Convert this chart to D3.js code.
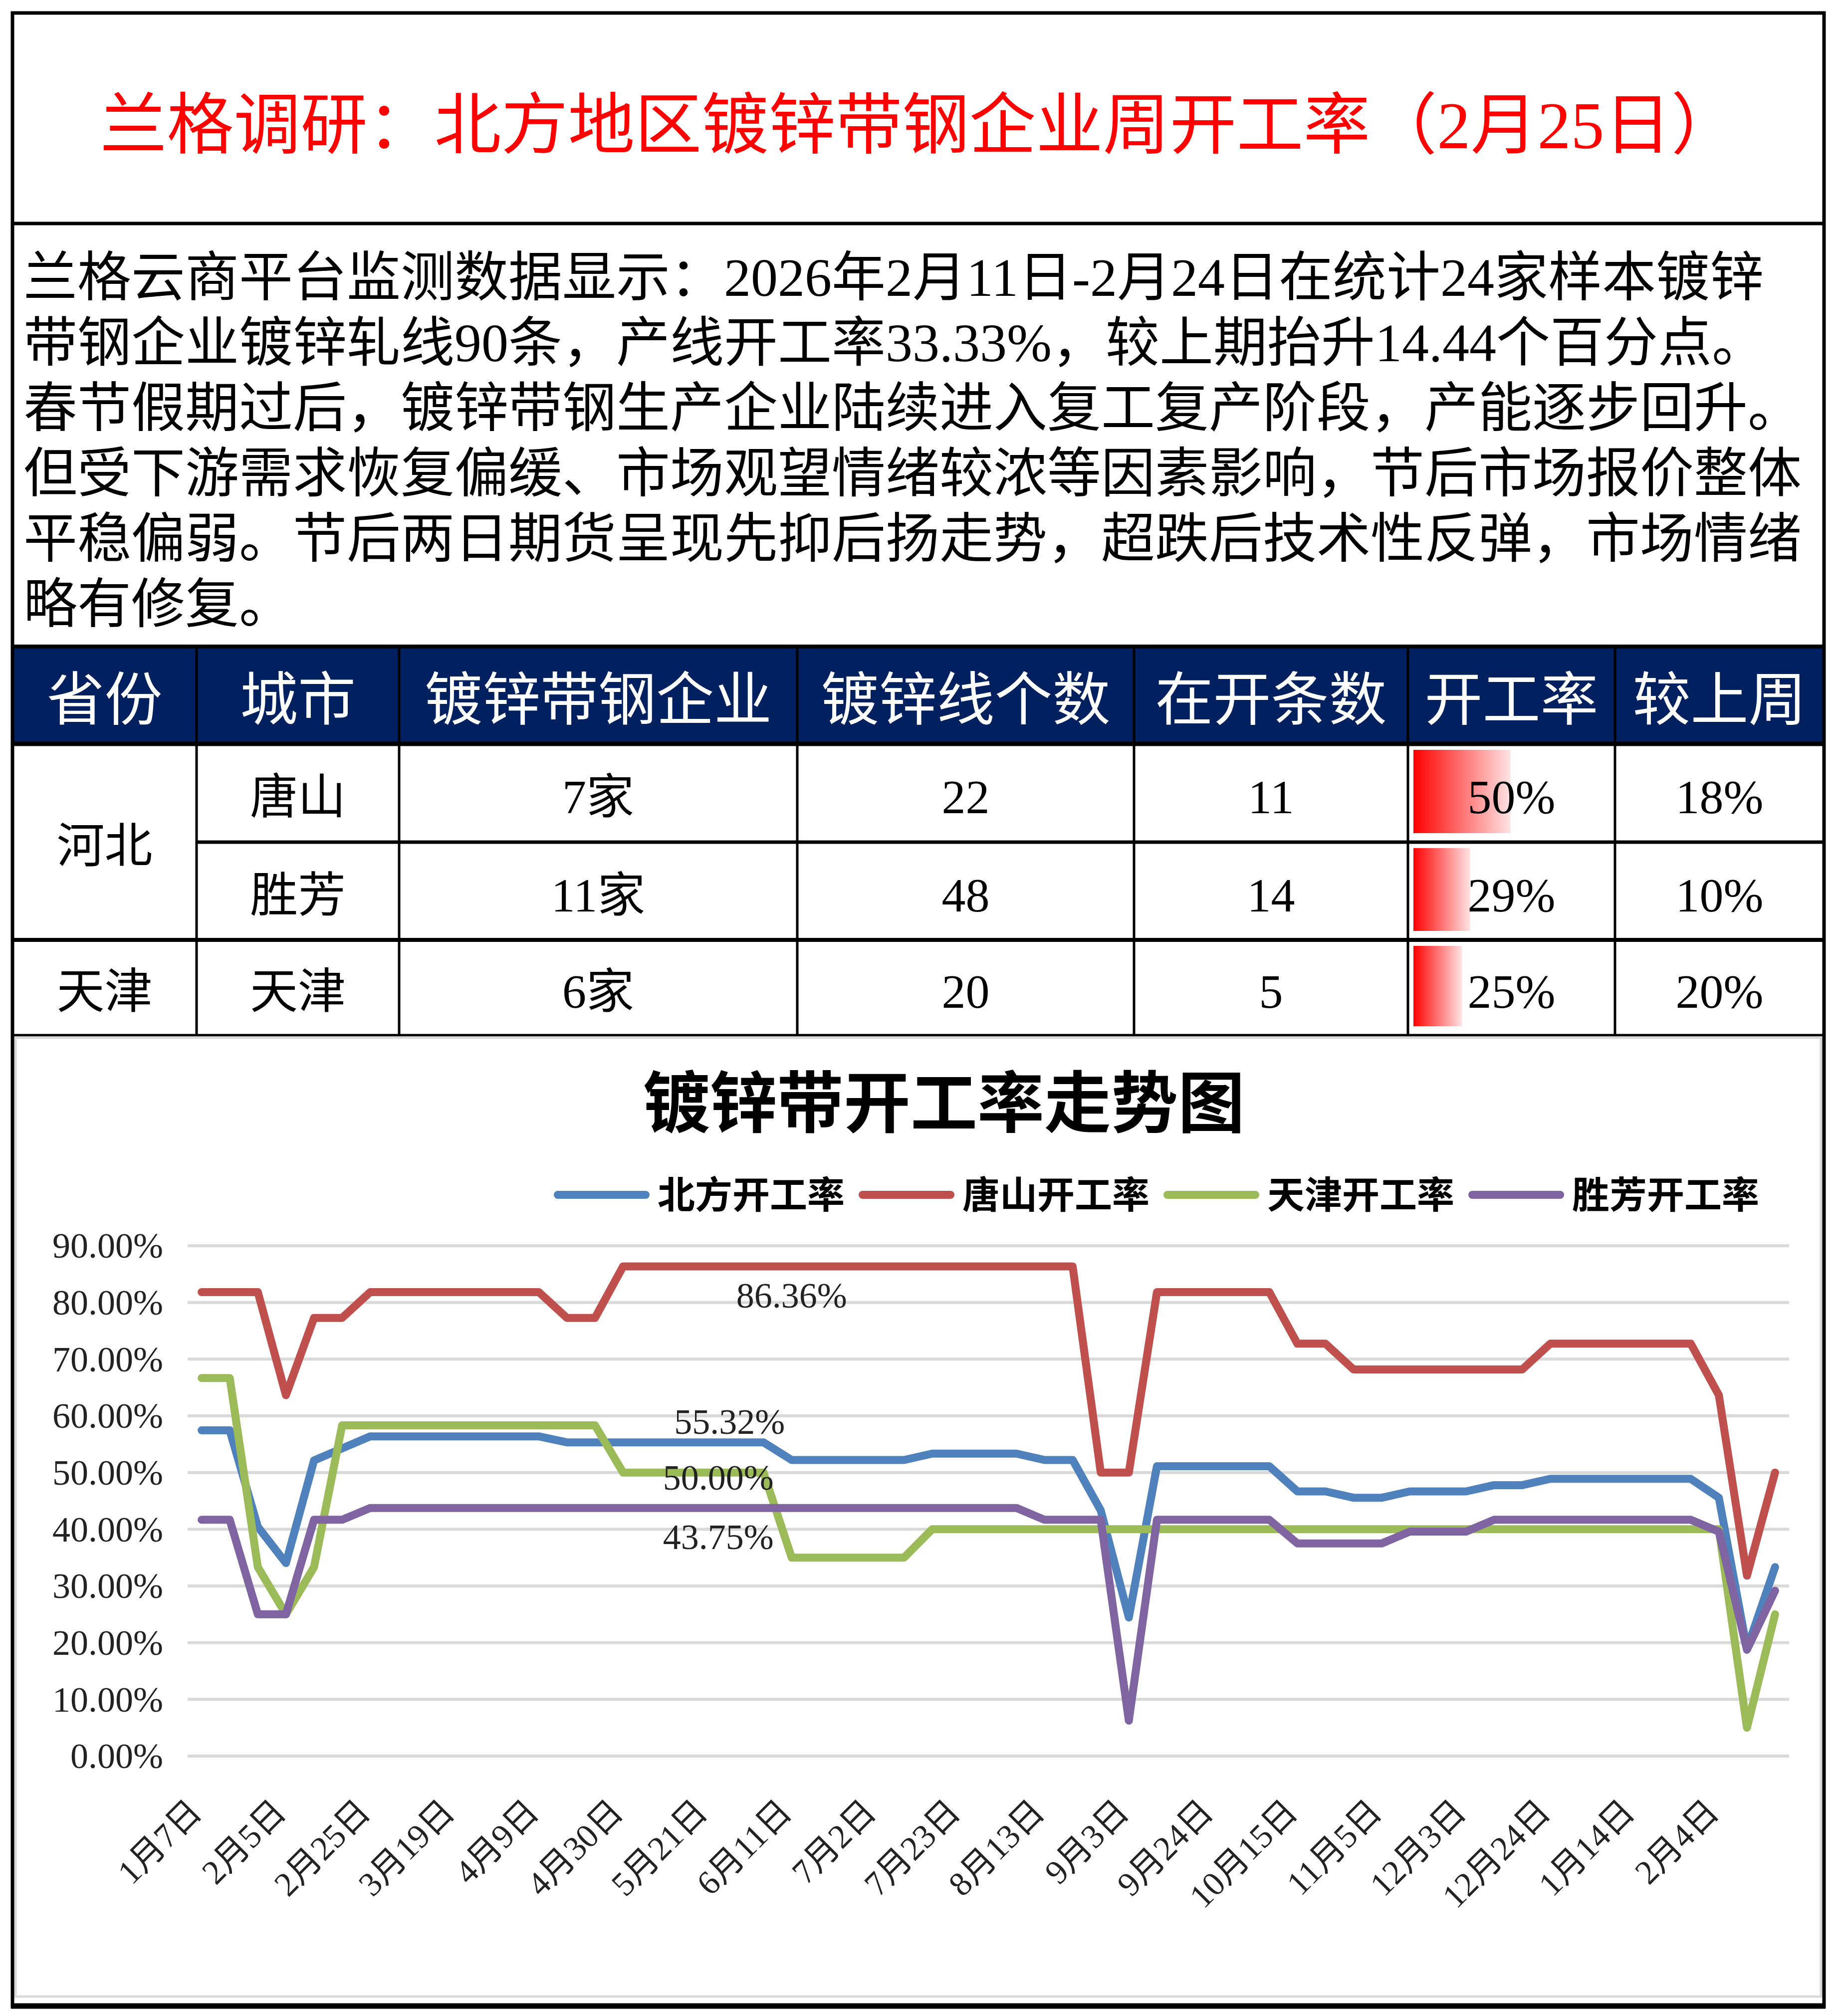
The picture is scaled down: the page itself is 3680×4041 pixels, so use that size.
<!DOCTYPE html>
<html>
<head>
<meta charset="utf-8">
<script src="https://cdn.jsdelivr.net/npm/d3@7"></script>
<style>
  body { margin: 0; background: #fff; }
  svg { display: block; }
</style>
</head>
<body>
<svg id="page" width="3680" height="4041"></svg>
<script>
/////////////////////////////////////////////////////////////////////////////
// data
var titleText = "兰格调研：北方地区镀锌带钢企业周开工率（2月25日）";
var introLines = ["兰格云商平台监测数据显示：2026年2月11日-2月24日在统计24家样本镀锌",
                  "带钢企业镀锌轧线90条，产线开工率33.33%，较上期抬升14.44个百分点。",
                  "春节假期过后，镀锌带钢生产企业陆续进入复工复产阶段，产能逐步回升。",
                  "但受下游需求恢复偏缓、市场观望情绪较浓等因素影响，节后市场报价整体",
                  "平稳偏弱。节后两日期货呈现先抑后扬走势，超跌后技术性反弹，市场情绪",
                  "略有修复。"];

var tableHeaders = ["省份", "城市", "镀锌带钢企业", "镀锌线个数", "在开条数", "开工率", "较上周"];
var provinces = [{name:"河北", rows:2}, {name:"天津", rows:1}];
var cities = ["唐山", "胜芳", "天津"];
var companies = ["7家", "11家", "6家"];
var lineCounts = [22, 48, 20];
var runningLines = [11, 14, 5];
var runRates = [0.50, 0.2917, 0.25];
var weekChange = [0.1818, 0.1042, 0.20];

var chartTitle = "镀锌带开工率走势图";
var dates = ["1月7日","1月14日","1月21日","2月5日","2月12日","2月19日","2月25日","3月5日","3月12日","3月19日",
             "3月26日","4月2日","4月9日","4月16日","4月23日","4月30日","5月7日","5月14日","5月21日","5月28日",
             "6月4日","6月11日","6月18日","6月25日","7月2日","7月9日","7月16日","7月23日","7月30日","8月6日",
             "8月13日","8月20日","8月27日","9月3日","9月10日","9月17日","9月24日","9月30日","10月9日","10月15日",
             "10月22日","10月29日","11月5日","11月12日","11月19日","12月3日","12月10日","12月17日","12月24日","12月31日",
             "1月7日","1月14日","1月21日","1月28日","2月4日","2月11日","2月25日"];
var seriesNames = ["北方开工率", "唐山开工率", "天津开工率", "胜芳开工率"];
var beifang = [57.45,57.45,40.43,34.04,52.13,54.26,56.38,56.38,56.38,56.38,
               56.38,56.38,56.38,55.32,55.32,55.32,55.32,55.32,55.32,55.32,
               55.32,52.22,52.22,52.22,52.22,52.22,53.33,53.33,53.33,53.33,
               52.22,52.22,43.33,24.44,51.11,51.11,51.11,51.11,51.11,46.67,
               46.67,45.56,45.56,46.67,46.67,46.67,47.78,47.78,48.89,48.89,
               48.89,48.89,48.89,48.89,45.56,18.89,33.33];
var tangshan = [81.82,81.82,81.82,63.64,77.27,77.27,81.82,81.82,81.82,81.82,
                81.82,81.82,81.82,77.27,77.27,86.36,86.36,86.36,86.36,86.36,
                86.36,86.36,86.36,86.36,86.36,86.36,86.36,86.36,86.36,86.36,
                86.36,86.36,50.00,50.00,81.82,81.82,81.82,81.82,81.82,72.73,
                72.73,68.18,68.18,68.18,68.18,68.18,68.18,68.18,72.73,72.73,
                72.73,72.73,72.73,72.73,63.64,31.82,50.00];
var tianjin = [66.67,66.67,33.33,25.00,33.33,58.33,58.33,58.33,58.33,58.33,
               58.33,58.33,58.33,58.33,58.33,50.00,50.00,50.00,50.00,50.00,
               50.00,35.00,35.00,35.00,35.00,35.00,40.00,40.00,40.00,40.00,
               40.00,40.00,40.00,40.00,40.00,40.00,40.00,40.00,40.00,40.00,
               40.00,40.00,40.00,40.00,40.00,40.00,40.00,40.00,40.00,40.00,
               40.00,40.00,40.00,40.00,40.00,5.00,25.00];
var shengfang = [41.67,41.67,25.00,25.00,41.67,41.67,43.75,43.75,43.75,43.75,
                 43.75,43.75,43.75,43.75,43.75,43.75,43.75,43.75,43.75,43.75,
                 43.75,43.75,43.75,43.75,43.75,43.75,43.75,43.75,43.75,43.75,
                 41.67,41.67,41.67,6.25,41.67,41.67,41.67,41.67,41.67,37.50,
                 37.50,37.50,37.50,39.58,39.58,39.58,41.67,41.67,41.67,41.67,
                 41.67,41.67,41.67,41.67,39.58,18.75,29.17];
var yTicks = [0, 10, 20, 30, 40, 50, 60, 70, 80, 90];
// which points carry a value label, and where
var pointLabels = [{series:1, index:21, place:"below"},
                   {series:0, index:19, place:"above"},
                   {series:2, index:18, place:"center"},
                   {series:3, index:18, place:"below"}];

/////////////////////////////////////////////////////////////////////////////
var svg = d3.select("#page");
var font = "'Liberation Serif','Noto Sans CJK SC',serif";
var cjk = "'Noto Sans CJK SC','Liberation Serif',sans-serif";
var colors = ["#4F81BD", "#C0504D", "#9BBB59", "#8064A2"];
var pct0 = d3.format(".0%");

svg.append("rect")
    .attr("width", 3680)
    .attr("height", 4041)
    .style("fill", "#fff");

// title block
svg.append("text")
    .text(titleText)
    .attr("x", 1842)
    .attr("y", 249)
    .attr("dy", "0.36em")
    .style("text-anchor", "middle")
    .style("font-family", font)
    .style("font-size", "134px")
    .style("fill", "#FF0000");

svg.selectAll("intro_lines")
    .data(introLines)
    .enter()
    .append("text")
    .attr("x", 47)
    .attr("y", function(d,i) { return 554 + i*131; })
    .attr("dy", "0.36em")
    .text(function(d) { return d; })
    .style("font-family", font)
    .style("font-size", "108px")
    .style("fill", "#000");

/////////////////////////////////////////////////////////////////////////////
// table
var colX = [25, 394, 800, 1598, 2273, 2822, 3237, 3656];
var rowY = [1296, 1491, 1688, 1884, 2075];
var colMid = function(c) { return (colX[c] + colX[c+1]) / 2; };
var rowMid = function(r) { return (rowY[r+1] + rowY[r+2]) / 2; };

svg.append("rect")
    .attr("x", colX[0])
    .attr("y", rowY[0])
    .attr("width", colX[7] - colX[0])
    .attr("height", rowY[1] - rowY[0])
    .style("fill", "#002060");

svg.selectAll("head_text")
    .data(tableHeaders)
    .enter()
    .append("text")
    .attr("x", function(d,i) { return colMid(i); })
    .attr("y", (rowY[0] + rowY[1]) / 2 + 8)
    .attr("dy", "0.36em")
    .text(function(d) { return d; })
    .style("text-anchor", "middle")
    .style("font-family", cjk)
    .style("font-size", "116px")
    .style("fill", "#fff");

// data bars in the 开工率 column
var defs = svg.append("defs");
var grad = defs.append("linearGradient")
    .attr("id", "barGrad")
    .attr("x1", "0%").attr("x2", "100%")
    .attr("y1", "0%").attr("y2", "0%");
grad.append("stop").attr("offset", "0%").attr("stop-color", "#FF0000");
grad.append("stop").attr("offset", "100%").attr("stop-color", "#FFE4E4");

var barScale = d3.scaleLinear()
                 .domain([0, 1])
                 .range([0, 390]);
svg.selectAll("rate_bars")
    .data(runRates)
    .enter()
    .append("rect")
    .attr("x", colX[5] + 11)
    .attr("y", function(d,i) { return rowY[i+1] + 12; })
    .attr("width", function(d) { return barScale(d); })
    .attr("height", function(d,i) { return rowY[i+2] - rowY[i+1] - 30; })
    .style("fill", "url(#barGrad)");

var rows = cities.map(function(c,i) {
  return [c, companies[i], lineCounts[i], runningLines[i], pct0(runRates[i]), pct0(weekChange[i])];
});
rows.forEach(function(row, r) {
  svg.selectAll("cell_r" + r)
      .data(row)
      .enter()
      .append("text")
      .attr("x", function(d,i) { return colMid(i+1); })
      .attr("y", rowMid(r) + 6)
      .attr("dy", "0.36em")
      .text(function(d) { return d; })
      .style("text-anchor", "middle")
      .style("font-family", font)
      .style("font-size", "96px")
      .style("fill", "#000");
});

var startRow = 0;
provinces.forEach(function(p) {
  var top = rowY[startRow + 1], bottom = rowY[startRow + 1 + p.rows];
  svg.append("text")
      .attr("x", colMid(0))
      .attr("y", (top + bottom) / 2 + 6)
      .attr("dy", "0.36em")
      .text(p.name)
      .style("text-anchor", "middle")
      .style("font-family", font)
      .style("font-size", "96px")
      .style("fill", "#000");
  startRow += p.rows;
});

// grid lines of the table
svg.selectAll("col_lines")
    .data(colX.slice(1, 7))
    .enter()
    .append("line")
    .attr("x1", function(d) { return d; })
    .attr("x2", function(d) { return d; })
    .attr("y1", rowY[0])
    .attr("y2", rowY[4])
    .style("stroke", "#000")
    .style("stroke-width", 5);
svg.append("line").attr("x1", colX[0]).attr("x2", colX[7]).attr("y1", rowY[0]).attr("y2", rowY[0])
    .style("stroke", "#000").style("stroke-width", 8);
svg.append("line").attr("x1", colX[0]).attr("x2", colX[7]).attr("y1", rowY[1]).attr("y2", rowY[1])
    .style("stroke", "#000").style("stroke-width", 9);
svg.append("line").attr("x1", colX[1]).attr("x2", colX[7]).attr("y1", rowY[2]).attr("y2", rowY[2])
    .style("stroke", "#000").style("stroke-width", 7);
svg.append("line").attr("x1", colX[0]).attr("x2", colX[7]).attr("y1", rowY[3]).attr("y2", rowY[3])
    .style("stroke", "#000").style("stroke-width", 8);
svg.append("line").attr("x1", colX[0]).attr("x2", colX[7]).attr("y1", rowY[4]).attr("y2", rowY[4])
    .style("stroke", "#000").style("stroke-width", 5);

/////////////////////////////////////////////////////////////////////////////
// line chart
svg.append("rect")
    .attr("x", 31)
    .attr("y", 2080)
    .attr("width", 3619)
    .attr("height", 1922)
    .style("fill", "none")
    .style("stroke", "#D9D9D9")
    .style("stroke-width", 5);

svg.append("text")
    .text(chartTitle)
    .attr("x", 1892)
    .attr("y", 2211)
    .attr("dy", "0.36em")
    .style("text-anchor", "middle")
    .style("font-family", cjk)
    .style("font-size", "134px")
    .style("font-weight", "bold")
    .style("fill", "#000");

var xScale = d3.scaleBand()
               .domain(d3.range(dates.length))
               .range([376, 3586]);
var xMid = function(i) { return xScale(i) + xScale.bandwidth() / 2; };
var yScale = d3.scaleLinear()
               .domain([0, 90])
               .range([3520, 2497]);

svg.selectAll("grid_lines")
    .data(yTicks)
    .enter()
    .append("line")
    .attr("x1", 376)
    .attr("x2", 3586)
    .attr("y1", function(d) { return yScale(d); })
    .attr("y2", function(d) { return yScale(d); })
    .style("stroke", "#D9D9D9")
    .style("stroke-width", 6);

svg.selectAll("y_labels")
    .data(yTicks)
    .enter()
    .append("text")
    .attr("x", 327)
    .attr("y", function(d) { return yScale(d); })
    .attr("dy", "0.34em")
    .text(function(d) { return d3.format(".2f")(d) + "%"; })
    .style("text-anchor", "end")
    .style("font-family", font)
    .style("font-size", "72px")
    .style("fill", "#222");

svg.selectAll("x_labels")
    .data(d3.range(dates.length).filter(function(i) { return i % 3 == 0; }))
    .enter()
    .append("text")
    .attr("transform", function(i) {
      return "translate(" + (xMid(i) + 4) + "," + 3636 + ") rotate(-45)";
    })
    .text(function(i) { return dates[i]; })
    .style("text-anchor", "end")
    .style("font-family", font)
    .style("font-size", "68px")
    .style("fill", "#222");

var allSeries = [beifang, tangshan, tianjin, shengfang];
var line = d3.line()
             .x(function(d,i) { return xMid(i); })
             .y(function(d) { return yScale(d); });
svg.selectAll("series_lines")
    .data(allSeries)
    .enter()
    .append("path")
    .attr("d", function(d) { return line(d); })
    .style("fill", "none")
    .style("stroke", function(d,i) { return colors[i]; })
    .style("stroke-width", 16)
    .style("stroke-linejoin", "round")
    .style("stroke-linecap", "round");

svg.selectAll("point_labels")
    .data(pointLabels)
    .enter()
    .append("text")
    .attr("x", function(d) {
      // Excel nudges the centred and below labels of the flat segments a little right
      return xMid(d.index) + (d.series >= 2 ? 22 : (d.series == 0 ? -12 : 0));
    })
    .attr("y", function(d) {
      var v = yScale(allSeries[d.series][d.index]);
      if (d.place == "below") { return v + 58; }
      else if (d.place == "above") { return v - 42; }
      else { return v + 10; }
    })
    .attr("dy", "0.34em")
    .text(function(d) { return d3.format(".2f")(allSeries[d.series][d.index]) + "%"; })
    .style("text-anchor", "middle")
    .style("font-family", font)
    .style("font-size", "72px")
    .style("fill", "#222");

// legend
var legendX = 1118;
seriesNames.forEach(function(name, i) {
  svg.append("line")
      .attr("x1", legendX)
      .attr("x2", legendX + 176)
      .attr("y1", 2395)
      .attr("y2", 2395)
      .style("stroke", colors[i])
      .style("stroke-width", 16)
      .style("stroke-linecap", "round");
  var t = svg.append("text")
      .attr("x", legendX + 200)
      .attr("y", 2395)
      .attr("dy", "0.36em")
      .text(name)
      .style("font-family", cjk)
      .style("font-size", "75px")
      .style("font-weight", "bold")
      .style("fill", "#000");
  legendX += 200 + t.node().getComputedTextLength() + 36;
});

/////////////////////////////////////////////////////////////////////////////
// outer frame
svg.append("rect")
    .attr("x", 25)
    .attr("y", 26)
    .attr("width", 3631)
    .attr("height", 3996)
    .style("fill", "none")
    .style("stroke", "#000")
    .style("stroke-width", 7);
svg.append("line").attr("x1", 25).attr("x2", 3656).attr("y1", 448).attr("y2", 448)
    .style("stroke", "#000").style("stroke-width", 7);
svg.append("line").attr("x1", 22).attr("x2", 3659).attr("y1", 4021).attr("y2", 4021)
    .style("stroke", "#000").style("stroke-width", 11);
</script>
</body>
</html>
